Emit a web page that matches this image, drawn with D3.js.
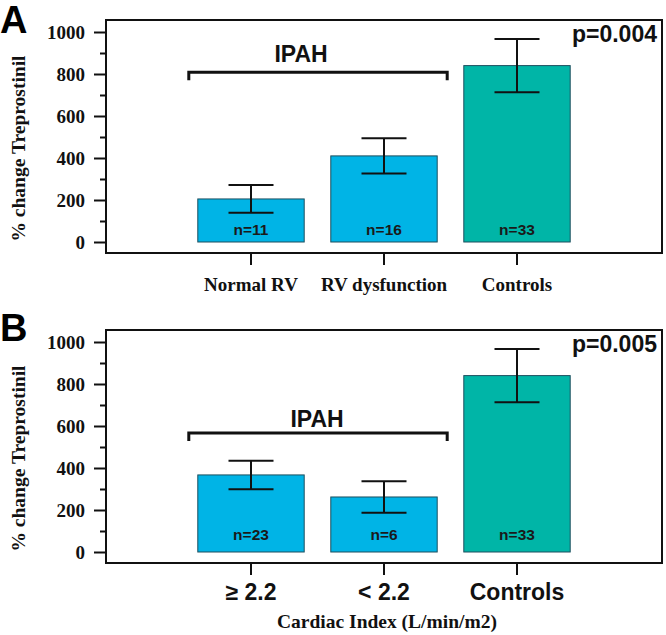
<!DOCTYPE html>
<html>
<head>
<meta charset="utf-8">
<script src="https://cdn.jsdelivr.net/npm/d3@7"></script>
<style>
  html, body { margin: 0; padding: 0; background: #fff; }
  svg { display: block; }
</style>
</head>
<body>
<svg id="chart" width="666" height="635"></svg>
<script>
// ---- Data ----
const categoriesA = ["Normal RV", "RV dysfunction", "Controls"];
const valuesA = [205, 410, 840];
const errorsA = [66, 84, 127];
const nLabelsA = ["n=11", "n=16", "n=33"];
const pLabelA = "p=0.004";

const categoriesB = ["\u2265 2.2", "< 2.2", "Controls"];
const valuesB = [367, 262, 840];
const errorsB = [68, 75, 127];
const nLabelsB = ["n=23", "n=6", "n=33"];
const pLabelB = "p=0.005";

const groupKinds = ["ipah", "ipah", "control"];
const yTicks = [0, 200, 400, 600, 800, 1000];
const yMinorTicks = [100, 300, 500, 700, 900];
const yTitle = "% change Treprostinil";
const xTitleB = "Cardiac Index (L/min/m2)";
const bracketLabel = "IPAH";
const bracketValueA = 808;
const bracketValueB = 567;

// ---- Styles ----
const colors = { ipah: "#00b4e6", control: "#00b5a7" };
const serif = "'Liberation Serif', 'Times New Roman', serif";
const sans = "'Liberation Sans', Arial, sans-serif";

const svg = d3.select("#chart");

function txt(sel, family, size) {
  return sel.style("font-family", family).style("font-weight", "bold")
    .style("font-size", size + "px").attr("fill", "#111");
}

function drawPanel(opt) {
  const g = svg.append("g").attr("transform", `translate(0,${opt.offsetY})`);
  const frame = { left: 106, right: 662, top: 20, bottom: 253 };

  const y = d3.scaleLinear().domain([0, 1000]).range([242, 32]);
  const x = d3.scaleBand().domain(opt.categories)
    .range([184.5, 583.5]).paddingInner(0.2).paddingOuter(0.1);

  // bars
  g.selectAll("rect.bar").data(opt.values).enter().append("rect")
    .attr("class", "bar")
    .attr("x", (d, i) => x(opt.categories[i]))
    .attr("y", d => y(d))
    .attr("width", x.bandwidth())
    .attr("height", d => y(0) - y(d))
    .attr("fill", (d, i) => colors[groupKinds[i]])
    .attr("stroke", "#1d4f5e")
    .attr("stroke-width", 1);

  // error bars
  const capW = 45;
  opt.values.forEach((v, i) => {
    const cx = x(opt.categories[i]) + x.bandwidth() / 2;
    const e = opt.errors[i];
    const eg = g.append("g").attr("stroke", "#111").attr("stroke-width", 2);
    eg.append("line").attr("x1", cx).attr("x2", cx).attr("y1", y(v + e)).attr("y2", y(v - e));
    eg.append("line").attr("x1", cx - capW / 2).attr("x2", cx + capW / 2).attr("y1", y(v + e)).attr("y2", y(v + e));
    eg.append("line").attr("x1", cx - capW / 2).attr("x2", cx + capW / 2).attr("y1", y(v - e)).attr("y2", y(v - e));
  });

  // n labels
  txt(g.selectAll("text.n").data(opt.nLabels).enter().append("text")
    .attr("x", (d, i) => x(opt.categories[i]) + x.bandwidth() / 2)
    .attr("y", y(0) - opt.nOffset)
    .attr("text-anchor", "middle")
    .text(d => d), sans, 15.5).attr("fill", "#1a1a1a");

  // frame
  g.append("rect")
    .attr("x", frame.left).attr("y", frame.top)
    .attr("width", frame.right - frame.left).attr("height", frame.bottom - frame.top)
    .attr("fill", "none").attr("stroke", "#111").attr("stroke-width", 2);

  // y axis (major)
  const yAxis = d3.axisLeft(y).tickValues(yTicks).tickSize(12).tickPadding(9).tickFormat(d3.format("d"));
  const ya = g.append("g").attr("transform", `translate(${frame.left},0)`).call(yAxis);
  ya.select(".domain").remove();
  ya.selectAll(".tick line").attr("stroke", "#111").attr("stroke-width", 2);
  txt(ya.selectAll(".tick text"), serif, 19);
  // y minor ticks
  const yMinor = d3.axisLeft(y).tickValues(yMinorTicks).tickSize(6).tickFormat("");
  const ym = g.append("g").attr("transform", `translate(${frame.left},0)`).call(yMinor);
  ym.select(".domain").remove();
  ym.selectAll(".tick text").remove();
  ym.selectAll(".tick line").attr("stroke", "#111").attr("stroke-width", 2);

  // x axis
  const xAxis = d3.axisBottom(x).tickSize(12).tickPadding(opt.xTickPad);
  const xa = g.append("g").attr("transform", `translate(0,${frame.bottom})`).call(xAxis);
  xa.select(".domain").remove();
  xa.selectAll(".tick line").attr("stroke", "#111").attr("stroke-width", 2);
  txt(xa.selectAll(".tick text"), opt.xFont, opt.xFontSize);

  // y title
  txt(g.append("text")
    .attr("transform", `translate(25,${(frame.top + frame.bottom) / 2 + 12}) rotate(-90)`)
    .attr("text-anchor", "middle")
    .text(yTitle), serif, 19.5);

  // bracket
  const bx1 = x(opt.categories[0]) - 9;
  const bx2 = x(opt.categories[1]) + x.bandwidth() + 10;
  const by = y(opt.bracketValue);
  g.append("path")
    .attr("d", `M${bx1},${by + 8}V${by}H${bx2}V${by + 8}`)
    .attr("fill", "none").attr("stroke", "#111").attr("stroke-width", 3);
  txt(g.append("text")
    .attr("x", opt.ipahX).attr("y", by - opt.ipahGap)
    .attr("text-anchor", "middle")
    .text(bracketLabel), sans, 23);

  // p value
  txt(g.append("text")
    .attr("x", 657).attr("y", 42)
    .attr("text-anchor", "end")
    .text(opt.pLabel), sans, 23);

  // panel letter
  txt(g.append("text")
    .attr("x", 0).attr("y", opt.letterY)
    .text(opt.letter), sans, 38).attr("fill", "#000");

  if (opt.xTitle) {
    txt(g.append("text")
      .attr("x", 387).attr("y", 318)
      .attr("text-anchor", "middle")
      .text(opt.xTitle), serif, 19.5);
  }
}

drawPanel({
  offsetY: 0, categories: categoriesA, values: valuesA, errors: errorsA,
  nLabels: nLabelsA, pLabel: pLabelA, letter: "A", letterY: 33,
  bracketValue: bracketValueA, ipahX: 301, ipahGap: 10, nOffset: 7,
  xFont: serif, xFontSize: 19, xTickPad: 13
});
drawPanel({
  offsetY: 310, categories: categoriesB, values: valuesB, errors: errorsB,
  nLabels: nLabelsB, pLabel: pLabelB, letter: "B", letterY: 31,
  bracketValue: bracketValueB, ipahX: 317, ipahGap: 6, nOffset: 12,
  xFont: sans, xFontSize: 23, xTickPad: 9, xTitle: xTitleB
});
</script>
</body>
</html>
